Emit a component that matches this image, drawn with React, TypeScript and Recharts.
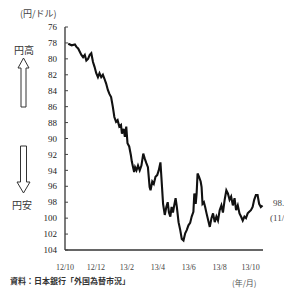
import React from 'react';
import { LineChart, Line, XAxis, YAxis } from 'recharts';

// month offset from 2012/10 (0 = start of Oct 2012)
const monthPos = [0.21,0.43,0.64,0.74,0.85,1.06,1.17,1.28,1.38,1.49,1.60,1.70,1.81,1.91,2.02,2.13,2.23,2.34,2.45,2.55,2.66,2.77,2.87,2.98,3.09,3.19,3.30,3.40,3.51,3.62,3.68,3.79,3.87,3.96,4.04,4.15,4.26,4.32,4.40,4.47,4.53,4.62,4.72,4.83,4.94,5.06,5.15,5.26,5.36,5.47,5.53,5.64,5.74,5.85,5.96,6.06,6.17,6.23,6.34,6.45,6.55,6.64,6.72,6.81,6.89,6.98,7.06,7.15,7.23,7.34,7.45,7.55,7.66,7.77,7.87,7.98,8.09,8.19,8.30,8.36,8.45,8.51,8.57,8.66,8.77,8.83,8.89,8.98,9.06,9.15,9.26,9.36,9.47,9.57,9.68,9.79,9.89,10.00,10.11,10.21,10.32,10.43,10.53,10.64,10.74,10.85,10.96,11.06,11.17,11.28,11.38,11.49,11.60,11.70,11.81,11.91,12.02,12.13,12.23,12.34,12.45,12.55,12.66,12.77];

// yen per dollar
const yenPerDollar = [78.1,78.3,78.2,78.5,78.7,79.5,79.8,79.5,80.2,80.0,79.5,79.3,80.4,81.0,81.8,82.3,81.8,82.3,82.0,82.5,83.1,83.9,84.4,84.8,86.0,87.3,87.9,87.7,88.5,88.3,89.4,88.8,89.8,88.5,90.6,91.0,92.1,92.9,93.6,94.2,93.6,94.0,93.4,94.0,93.4,91.9,92.5,93.1,93.6,96.1,96.5,95.4,95.7,94.8,94.6,94.0,93.0,94.8,98.2,99.6,98.6,98.0,99.3,99.8,98.6,99.3,98.4,97.5,98.6,100.5,101.5,102.6,102.8,101.9,101.5,100.9,100.6,99.8,99.2,96.9,98.2,96.9,94.4,94.8,95.4,96.1,98.2,98.0,98.6,99.4,100.3,101.1,100.0,99.4,100.5,99.8,100.3,99.0,98.4,99.3,97.7,96.5,96.9,97.7,97.3,98.4,97.5,99.0,98.4,99.4,99.8,100.3,99.8,100.0,99.4,99.2,99.0,98.6,97.7,97.1,97.1,98.2,98.6,98.4];

const xTickValues = [0, 2, 4, 6, 8, 10, 12];
const xTickLabels = ['12/10', '12/12', '13/2', '13/4', '13/6', '13/8', '13/10'];
const yTicks = [76, 78, 80, 82, 84, 86, 88, 90, 92, 94, 96, 98, 100, 102, 104];

const data = monthPos.map((m, i) => ({ m, v: yenPerDollar[i] }));

const serif = '"Liberation Serif", "DejaVu Serif", serif';
const jp = '"Noto Sans CJK JP", sans-serif';

export default function App() {
  return (
    <div style={{ position: 'fixed', left: 0, top: 0, width: 284, height: 289, overflow: 'hidden', background: '#fff' }}>
      <LineChart width={284} height={289} data={data} margin={{ top: 27, right: 21, bottom: 19, left: 0 }}>
        <XAxis
          dataKey="m"
          type="number"
          domain={[0, 12.8]}
          ticks={xTickValues}
          tickFormatter={(v: number) => xTickLabels[xTickValues.indexOf(v)] ?? ''}
          tickLine={false}
          axisLine={{ stroke: '#333', strokeWidth: 1.3 }}
          tick={{ fontSize: 8, fill: '#444', fontFamily: serif }}
          tickMargin={8}
          height={20}
          interval={0}
        />
        <YAxis
          type="number"
          domain={[76, 104]}
          reversed
          ticks={yTicks}
          interval={0}
          width={65}
          tickSize={-3}
          tickMargin={11}
          tickLine={{ stroke: '#444' }}
          axisLine={{ stroke: '#333', strokeWidth: 1.3 }}
          tick={{ fontSize: 9, fill: '#222', fontFamily: serif }}
        />
        <Line
          type="linear"
          dataKey="v"
          stroke="#111"
          strokeWidth={2.1}
          dot={false}
          isAnimationActive={false}
        />
      </LineChart>
      <svg width={284} height={289} style={{ position: 'absolute', left: 0, top: 0, pointerEvents: 'none' }}>
        <text x={20} y={17} fontSize={9} fill="#444" fontFamily={jp}>(円/ドル)</text>
        <text x={14} y={54} fontSize={10} fill="#333" fontFamily={jp}>円高</text>
        <polygon points="23.5,58 29,68 26,68 26,107 21,107 21,68 18,68" fill="none" stroke="#333" strokeWidth={1} />
        <polygon points="23.5,193 30,182 26.5,182 26.5,146 20.5,146 20.5,182 17,182" fill="none" stroke="#333" strokeWidth={1} />
        <text x={12} y={209} fontSize={10} fill="#333" fontFamily={jp}>円安</text>
        <text x={273} y={206} fontSize={9} fill="#444" fontFamily={serif}>98.4</text>
        <text x={270} y={221} fontSize={9} fill="#444" fontFamily={serif}>(11/1)</text>
        <text x={10} y={284} fontSize={8} fill="#333" fontFamily={jp} fontWeight="bold">資料：日本銀行「外国為替市況」</text>
        <text x={232} y={286} fontSize={8} fill="#555" fontFamily={jp}>(年/月)</text>
      </svg>
    </div>
  );
}
